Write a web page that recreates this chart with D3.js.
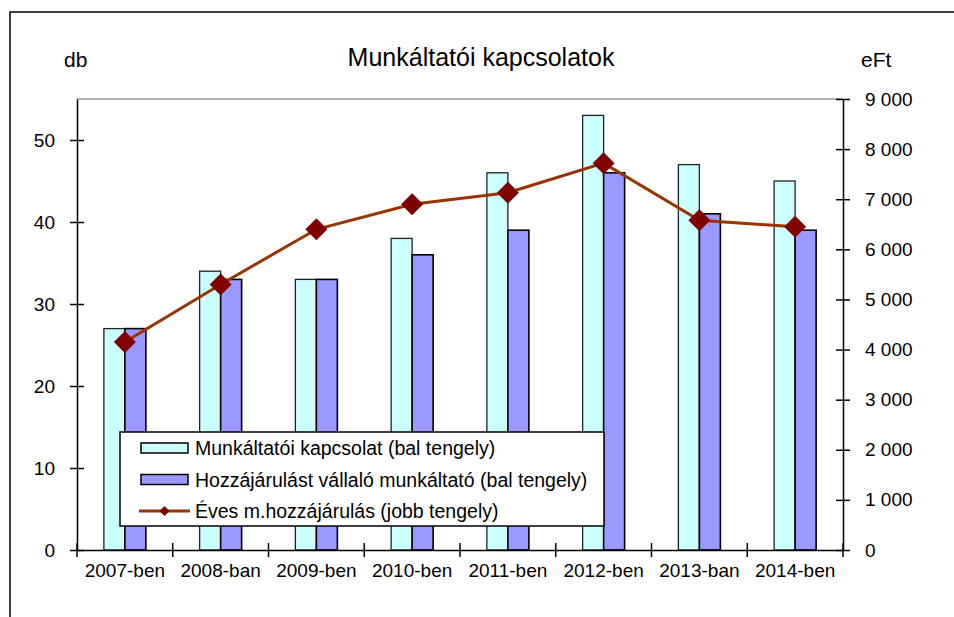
<!DOCTYPE html>
<html>
<head>
<meta charset="utf-8">
<script src="https://cdn.jsdelivr.net/npm/d3@7"></script>
<style>
  body { margin: 0; background: #fff; }
  svg { display: block; font-family: "Liberation Sans", Arial, sans-serif; }
</style>
</head>
<body>
<svg id="chart"></svg>
<script>
// data
const categories = ['2007-ben', '2008-ban', '2009-ben', '2010-ben', '2011-ben', '2012-ben', '2013-ban', '2014-ben'];
const kapcsolat = [27, 34, 33, 38, 46, 53, 47, 45];
const vallalo = [27, 33, 33, 36, 39, 46, 41, 39];
const evesHozzajarulas = [4150, 5300, 6400, 6900, 7130, 7720, 6580, 6450];
const leftTicks = [0, 10, 20, 30, 40, 50];
const rightTicks = [0, 1000, 2000, 3000, 4000, 5000, 6000, 7000, 8000, 9000];
const seriesNames = [
  'Munkáltatói kapcsolat (bal tengely)',
  'Hozzájárulást vállaló munkáltató (bal tengely)',
  'Éves m.hozzájárulás (jobb tengely)'
];

const width = 954, height = 617;
const margin = { top: 99, right: 111, bottom: 67, left: 77 };
const cyan = '#ccffff', purple = '#9999ff', lineCol = '#993300', markCol = '#800000';

const svg = d3.select('#chart').attr('width', width).attr('height', height);

// outer frame
svg.append('rect')
  .attr('x', 10).attr('y', 12)
  .attr('width', 980).attr('height', 640)
  .attr('fill', 'none').attr('stroke', '#000').attr('stroke-width', 1.5);

const x0 = d3.scaleBand().domain(categories)
  .range([margin.left, width - margin.right]).padding(0);
const x1 = d3.scaleBand().domain(['k', 'v'])
  .range([0, x0.bandwidth()]).paddingInner(0).paddingOuter(1.28);
const yL = d3.scaleLinear().domain([0, 55]).range([height - margin.bottom, margin.top]);
const yR = d3.scaleLinear().domain([0, 9000]).range([height - margin.bottom, margin.top]);

const huFmt = d3.formatLocale({ decimal: ',', thousands: ' ', grouping: [3], currency: ['', ''] }).format(',d');

// plot top border
svg.append('line')
  .attr('x1', margin.left).attr('x2', width - margin.right)
  .attr('y1', margin.top).attr('y2', margin.top)
  .attr('stroke', '#999').attr('stroke-width', 1.5);

// bars
const groups = svg.append('g').selectAll('g')
  .data(categories).join('g')
  .attr('transform', d => `translate(${x0(d)},0)`);

groups.append('rect')
  .attr('x', x1('k')).attr('width', x1.bandwidth())
  .attr('y', (d, i) => yL(kapcsolat[i]))
  .attr('height', (d, i) => yL(0) - yL(kapcsolat[i]))
  .attr('fill', cyan).attr('stroke', '#222').attr('stroke-width', 1.3);

groups.append('rect')
  .attr('x', x1('v')).attr('width', x1.bandwidth())
  .attr('y', (d, i) => yL(vallalo[i]))
  .attr('height', (d, i) => yL(0) - yL(vallalo[i]))
  .attr('fill', purple).attr('stroke', '#000').attr('stroke-width', 1.6);

// left axis
const axL = svg.append('g')
  .attr('transform', `translate(${margin.left},0)`)
  .call(d3.axisLeft(yL).tickValues(leftTicks).tickSizeOuter(0).tickPadding(16));
axL.select('.domain').attr('stroke-width', 1.5);
axL.selectAll('.tick line').attr('x1', 7).attr('x2', -7).attr('stroke-width', 1.5);
axL.selectAll('.tick text').attr('font-size', 19).attr('font-family', null).attr('fill', '#000');

// right axis
const axR = svg.append('g')
  .attr('transform', `translate(${width - margin.right},0)`)
  .call(d3.axisRight(yR).tickValues(rightTicks).tickFormat(huFmt).tickSizeOuter(0).tickPadding(16));
axR.select('.domain').attr('stroke-width', 1.5);
axR.selectAll('.tick line').attr('x1', -7).attr('x2', 7).attr('stroke-width', 1.5);
axR.selectAll('.tick text').attr('font-size', 19).attr('font-family', null).attr('fill', '#000');

// bottom axis
const axB = svg.append('g')
  .attr('transform', `translate(0,${height - margin.bottom})`)
  .call(d3.axisBottom(x0).tickSize(0).tickPadding(14));
axB.select('.domain').attr('stroke-width', 1.5);
axB.selectAll('.tick text').attr('font-size', 19).attr('font-family', null).attr('fill', '#000');
axB.selectAll('.boundary')
  .data(categories.concat(['end'])).join('line')
  .attr('class', 'boundary')
  .attr('x1', (d, i) => i < categories.length ? x0(d) : x0.range()[1])
  .attr('x2', (d, i) => i < categories.length ? x0(d) : x0.range()[1])
  .attr('y1', -7).attr('y2', 7)
  .attr('stroke', '#000').attr('stroke-width', 1.5);

// line series
const cx = d => x0(d) + x0.bandwidth() / 2;
const lineGen = d3.line().x((d, i) => cx(categories[i])).y(d => yR(d));
svg.append('path')
  .datum(evesHozzajarulas)
  .attr('d', lineGen)
  .attr('fill', 'none').attr('stroke', lineCol).attr('stroke-width', 3);

const diamond = d3.symbol().type(d3.symbolSquare).size(242);
svg.append('g').selectAll('path')
  .data(evesHozzajarulas).join('path')
  .attr('d', diamond)
  .attr('transform', (d, i) => `translate(${cx(categories[i])},${yR(d)}) rotate(45)`)
  .attr('fill', markCol);

// titles
svg.append('text').attr('x', 481).attr('y', 66).attr('text-anchor', 'middle')
  .attr('font-size', 25).text('Munkáltatói kapcsolatok');
svg.append('text').attr('x', 64).attr('y', 67).attr('font-size', 21).text('db');
svg.append('text').attr('x', 861).attr('y', 67).attr('font-size', 21).text('eFt');

// legend
const lg = svg.append('g');
lg.append('rect')
  .attr('x', 120).attr('y', 432).attr('width', 484).attr('height', 94)
  .attr('fill', '#fff').attr('stroke', '#000').attr('stroke-width', 1.5);

const rowY = [448, 479.5, 511];
lg.append('rect').attr('x', 141).attr('y', rowY[0] - 5).attr('width', 47).attr('height', 10)
  .attr('fill', cyan).attr('stroke', '#000').attr('stroke-width', 1.5);
lg.append('rect').attr('x', 141).attr('y', rowY[1] - 5).attr('width', 47).attr('height', 10)
  .attr('fill', purple).attr('stroke', '#000').attr('stroke-width', 1.5);
lg.append('line').attr('x1', 139).attr('x2', 190).attr('y1', rowY[2]).attr('y2', rowY[2])
  .attr('stroke', lineCol).attr('stroke-width', 3);
lg.append('path').attr('d', d3.symbol().type(d3.symbolSquare).size(50))
  .attr('transform', `translate(164.5,${rowY[2]}) rotate(45)`).attr('fill', markCol);

lg.selectAll('text.lbl')
  .data(seriesNames).join('text')
  .attr('class', 'lbl')
  .attr('x', 195).attr('y', (d, i) => rowY[i] + 7)
  .attr('font-size', 19.5)
  .text(d => d);
</script>
</body>
</html>
